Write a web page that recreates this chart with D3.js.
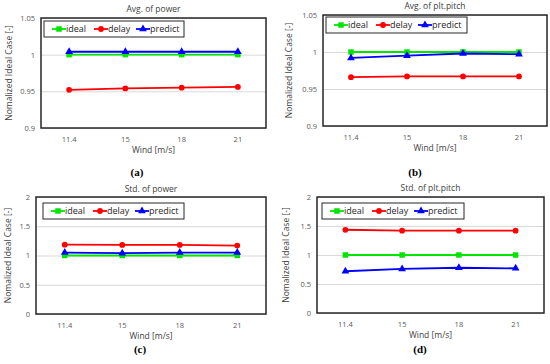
<!DOCTYPE html>
<html>
<head>
<meta charset="utf-8">
<script src="https://cdn.jsdelivr.net/npm/d3@7"></script>
<style>
  body { margin: 0; background: #fff; }
  text { font-family: "Open Sans", "Noto Sans", sans-serif; }
  .grid line { stroke: #d9d9d9; stroke-width: 1; }
  .grid path { display: none; }
  .tick text { fill: #595959; font-size: 7.5px; }
</style>
</head>
<body>
<div id="chart"></div>
<script>
// categories shared by all panels
var winds = ["11.4", "15", "18", "21"];
var seriesNames = ["ideal", "delay", "predict"];
var seriesColors = ["#00e600", "#ff0000", "#0000ff"];

// (a) Avg. of power
var avgPowerIdeal = [1, 1, 1, 1];
var avgPowerDelay = [0.952, 0.954, 0.955, 0.956];
var avgPowerPredict = [1.004, 1.004, 1.004, 1.004];

// (b) Avg. of plt.pitch
var avgPitchIdeal = [1, 1, 1, 1];
var avgPitchDelay = [0.966, 0.967, 0.967, 0.967];
var avgPitchPredict = [0.992, 0.995, 0.998, 0.997];

// (c) Std. of power
var stdPowerIdeal = [1, 1, 1, 1];
var stdPowerDelay = [1.185, 1.18, 1.18, 1.17];
var stdPowerPredict = [1.05, 1.04, 1.05, 1.05];

// (d) Std. of plt.pitch
var stdPitchIdeal = [1, 1, 1, 1];
var stdPitchDelay = [1.435, 1.42, 1.42, 1.42];
var stdPitchPredict = [0.72, 0.76, 0.78, 0.77];

// tick labels
var avgTicks = [0.9, 0.95, 1, 1.05];
var stdTicks = [0, 0.5, 1, 1.5, 2];

var svg = d3.select("#chart").append("svg")
  .attr("width", 550)
  .attr("height", 364);

function drawPanel(p) {
  var g = svg.append("g")
    .attr("transform", "translate(" + p.ox + "," + p.oy + ")");

  var x = d3.scaleBand().domain(winds).range([p.left, p.right]);
  var y = d3.scaleLinear().domain(p.domain).range([p.bottom, p.top]);

  // gridlines
  g.append("g")
    .attr("class", "grid")
    .attr("transform", "translate(" + p.left + ",0)")
    .call(d3.axisLeft(y).tickValues(p.ticks).tickSize(-(p.right - p.left)).tickFormat(""));

  // y axis labels
  var ya = g.append("g")
    .attr("transform", "translate(" + p.left + ",0)")
    .call(d3.axisLeft(y).tickValues(p.ticks).tickSize(0).tickPadding(6).tickFormat(d3.format("")));
  ya.select(".domain").remove();

  // x axis labels
  var xa = g.append("g")
    .attr("transform", "translate(0," + p.bottom + ")")
    .call(d3.axisBottom(x).tickSize(0).tickPadding(9));
  xa.select(".domain").remove();

  // plot border
  g.append("rect")
    .attr("x", p.left)
    .attr("y", p.top)
    .attr("width", p.right - p.left)
    .attr("height", p.bottom - p.top)
    .attr("fill", "none")
    .attr("stroke", "#262626")
    .attr("stroke-width", 1.5);

  var line = d3.line()
    .x(function(d, i) { return x(winds[i]) + x.bandwidth() / 2; })
    .y(function(d) { return y(d); });

  p.series.forEach(function(vals, si) {
    g.append("path")
      .datum(vals)
      .attr("d", line)
      .attr("fill", "none")
      .attr("stroke", seriesColors[si])
      .attr("stroke-width", 1.8);
    g.selectAll(".m" + si)
      .data(vals)
      .enter().append("path")
      .attr("transform", function(d, i) {
        return "translate(" + (x(winds[i]) + x.bandwidth() / 2) + "," + y(d) + ")";
      })
      .attr("d", marker(si))
      .attr("fill", seriesColors[si]);
  });

  // legend
  var lg = g.append("g").attr("transform", "translate(" + p.lx + "," + p.ly + ")");
  lg.append("rect")
    .attr("width", p.lw).attr("height", 16)
    .attr("fill", "#fff").attr("stroke", "#262626").attr("stroke-width", 1);
  seriesNames.forEach(function(name, si) {
    var cx = 15 + si * 42;
    lg.append("line")
      .attr("x1", cx - 7).attr("x2", cx + 7)
      .attr("y1", 8).attr("y2", 8)
      .attr("stroke", seriesColors[si]).attr("stroke-width", 1.8);
    lg.append("path")
      .attr("transform", "translate(" + cx + ",8)")
      .attr("d", marker(si))
      .attr("fill", seriesColors[si]);
    lg.append("text")
      .attr("x", cx + 7).attr("y", 11.2)
      .attr("font-size", 9).attr("fill", "#262626")
      .text(name);
  });

  // title
  g.append("text")
    .attr("x", (p.left + p.right) / 2).attr("y", p.titleY)
    .attr("text-anchor", "middle")
    .attr("font-size", 8.5).attr("fill", "#404040")
    .text(p.title);

  // x axis title
  g.append("text")
    .attr("x", (p.left + p.right) / 2).attr("y", p.bottom + 25)
    .attr("text-anchor", "middle")
    .attr("font-size", 8.5).attr("fill", "#404040")
    .text("Wind [m/s]");

  // y axis title
  g.append("text")
    .attr("transform", "rotate(-90)")
    .attr("x", -(p.top + p.bottom) / 2).attr("y", p.yTitleX)
    .attr("text-anchor", "middle")
    .attr("font-size", 8.5).attr("fill", "#404040")
    .text("Nomalized Ideal Case [-]");

  // caption
  g.append("text")
    .attr("x", p.capX).attr("y", p.capY)
    .attr("text-anchor", "middle")
    .style("font-family", "'Liberation Serif', serif")
    .attr("font-weight", "bold")
    .attr("font-size", 11).attr("fill", "#000")
    .text(p.caption);
}

function marker(si) {
  if (si === 0) return d3.symbol().type(d3.symbolSquare).size(30)();
  if (si === 1) return d3.symbol().type(d3.symbolCircle).size(26)();
  return d3.symbol().type(d3.symbolTriangle).size(26)();
}

drawPanel({
  ox: 0, oy: 0, left: 41, right: 266, top: 18, bottom: 128,
  domain: [0.9, 1.05], ticks: avgTicks,
  series: [avgPowerIdeal, avgPowerDelay, avgPowerPredict],
  lx: 44, ly: 21, lw: 140,
  title: "Avg. of power", titleY: 12, yTitleX: 12,
  caption: "(a)", capX: 137, capY: 176
});

drawPanel({
  ox: 275, oy: 0, left: 48, right: 272, top: 15, bottom: 126,
  domain: [0.9, 1.05], ticks: avgTicks,
  series: [avgPitchIdeal, avgPitchDelay, avgPitchPredict],
  lx: 51, ly: 17, lw: 141,
  title: "Avg. of plt.pitch", titleY: 9, yTitleX: 17,
  caption: "(b)", capX: 140, capY: 176
});

drawPanel({
  ox: 0, oy: 182, left: 36, right: 266, top: 15, bottom: 132,
  domain: [0, 2], ticks: stdTicks,
  series: [stdPowerIdeal, stdPowerDelay, stdPowerPredict],
  lx: 43, ly: 21, lw: 141,
  title: "Std. of power", titleY: 10, yTitleX: 11,
  caption: "(c)", capX: 140, capY: 171
});

drawPanel({
  ox: 275, oy: 182, left: 42, right: 269, top: 15, bottom: 131,
  domain: [0, 2], ticks: stdTicks,
  series: [stdPitchIdeal, stdPitchDelay, stdPitchPredict],
  lx: 47, ly: 21, lw: 142,
  title: "Std. of plt.pitch", titleY: 9, yTitleX: 14,
  caption: "(d)", capX: 145, capY: 171
});
</script>
</body>
</html>
